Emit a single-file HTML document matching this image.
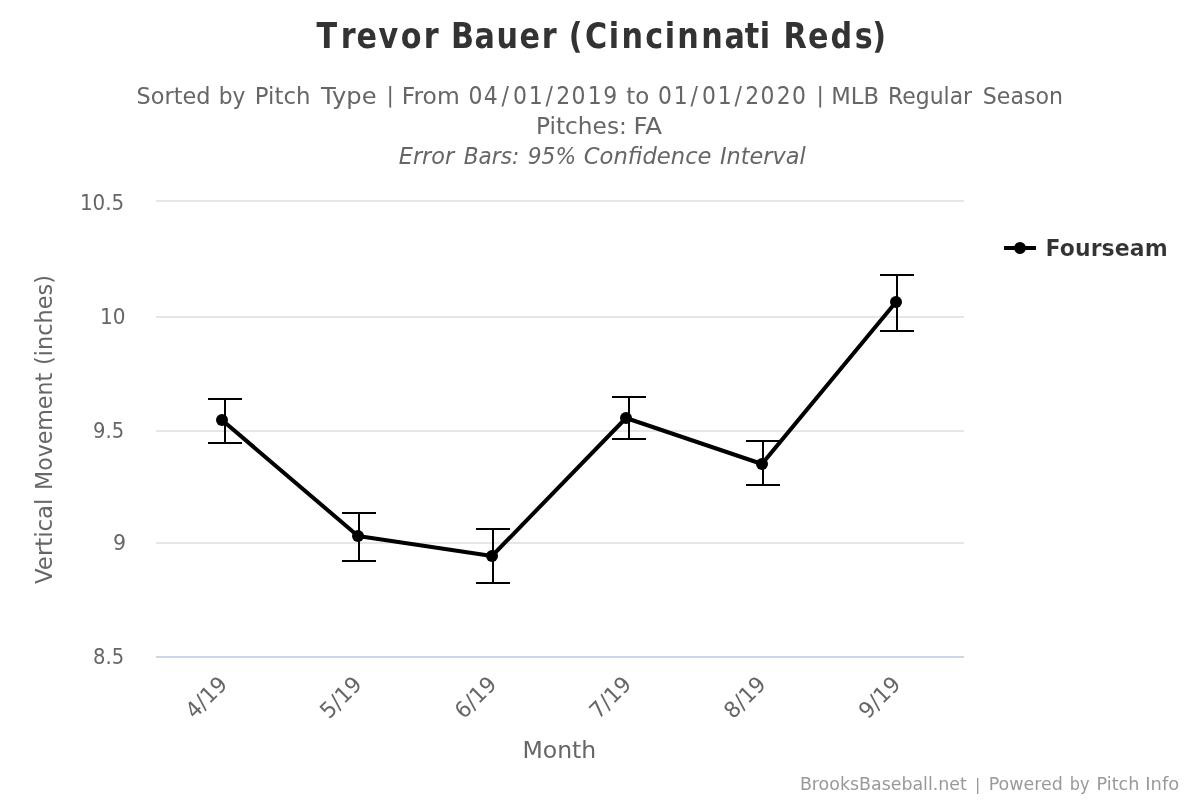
<!DOCTYPE html>
<html lang="en">
<head>
<meta charset="utf-8">
<title>Trevor Bauer (Cincinnati Reds)</title>
<style>
html,body{margin:0;padding:0;background:#fff;}
body{width:1200px;height:800px;overflow:hidden;}
svg{display:block;font-family:"DejaVu Sans","Liberation Sans",sans-serif;}
</style>
</head>
<body>
<svg width="1200" height="800" viewBox="0 0 1200 800">
<rect x="0" y="0" width="1200" height="800" fill="#ffffff"/>
<g stroke="#e6e6e6" stroke-width="2" fill="none">
<path d="M156 201H964"/>
<path d="M156 317H964"/>
<path d="M156 431H964"/>
<path d="M156 543H964"/>
</g>
<path d="M156 657H964" stroke="#ccd6eb" stroke-width="2" fill="none"/>
<g stroke="#000000" stroke-width="2" fill="none">
<path d="M225 399V443M208 399H242M208 443H242"/>
<path d="M359 513V561M342 513H376M342 561H376"/>
<path d="M493 529V583M476 529H510M476 583H510"/>
<path d="M629 397V439M612 397H646M612 439H646"/>
<path d="M763 441V485M746 441H780M746 485H780"/>
<path d="M897 275V331M880 275H914M880 331H914"/>
</g>
<path d="M222 420L358 536L492 556L626 418L762 464L896 302" stroke="#000000" stroke-width="4" fill="none" stroke-linejoin="round" stroke-linecap="round"/>
<g fill="#000000">
<circle cx="222" cy="420" r="6"/>
<circle cx="358" cy="536" r="6"/>
<circle cx="492" cy="556" r="6"/>
<circle cx="626" cy="418" r="6"/>
<circle cx="762" cy="464" r="6"/>
<circle cx="896" cy="302" r="6"/>
</g>
<path d="M1004 248H1036" stroke="#000000" stroke-width="4" fill="none"/>
<circle cx="1020" cy="248" r="6" fill="#000000"/>
<g font-size="23.3" fill="#666666">
<text x="136.54" y="103.80" textLength="73.93" lengthAdjust="spacingAndGlyphs">Sorted</text>
<text x="218.63" y="103.80" textLength="26.67" lengthAdjust="spacingAndGlyphs">by</text>
<text x="254.79" y="103.80" textLength="55.70" lengthAdjust="spacingAndGlyphs">Pitch</text>
<text x="321.04" y="103.80" textLength="55.56" lengthAdjust="spacingAndGlyphs">Type</text>
<text x="386.50" y="102.35" font-size="22">|</text>
<text x="401.74" y="103.80" textLength="57.96" lengthAdjust="spacingAndGlyphs">From</text>
<text x="626.25" y="103.80" textLength="22.98" lengthAdjust="spacingAndGlyphs">to</text>
<text x="816.50" y="102.35" font-size="22">|</text>
<text x="831.31" y="103.80" textLength="47.65" lengthAdjust="spacingAndGlyphs">MLB</text>
<text x="888.12" y="103.80" textLength="83.98" lengthAdjust="spacingAndGlyphs">Regular</text>
<text x="982.80" y="103.80" textLength="80.12" lengthAdjust="spacingAndGlyphs">Season</text>
</g>
<g font-size="23.3" fill="#666666">
<text x="536.00" y="133.80" textLength="90.84" lengthAdjust="spacingAndGlyphs">Pitches:</text>
<text x="633.40" y="133.80" textLength="28.53" lengthAdjust="spacingAndGlyphs">FA</text>
</g>
<g font-size="23.3" fill="#666666" font-style="italic">
<text x="398.75" y="163.80" textLength="55.39" lengthAdjust="spacingAndGlyphs">Error</text>
<text x="463.75" y="163.80" textLength="55.46" lengthAdjust="spacingAndGlyphs">Bars:</text>
<text x="527.82" y="163.80" textLength="48.24" lengthAdjust="spacingAndGlyphs">95%</text>
<text x="583.75" y="163.80" textLength="127.82" lengthAdjust="spacingAndGlyphs">Confidence</text>
<text x="720.00" y="163.80" textLength="85.74" lengthAdjust="spacingAndGlyphs">Interval</text>
</g>
<g font-size="22" fill="#666666">
<text x="79.89" y="209.80" textLength="44.31" lengthAdjust="spacingAndGlyphs">10.5</text>
</g>
<g font-size="22" fill="#666666">
<text x="99.88" y="324.00" textLength="25.53" lengthAdjust="spacingAndGlyphs">10</text>
</g>
<g font-size="22" fill="#666666">
<text x="93.11" y="438.00" textLength="31.07" lengthAdjust="spacingAndGlyphs">9.5</text>
</g>
<g font-size="22" fill="#666666">
<text x="113.07" y="550.00" textLength="13.06" lengthAdjust="spacingAndGlyphs">9</text>
</g>
<g font-size="22" fill="#666666">
<text x="93.11" y="664.00" textLength="31.07" lengthAdjust="spacingAndGlyphs">8.5</text>
</g>
<g font-size="23.3" fill="#666666">
<text x="522.48" y="758.00" textLength="73.81" lengthAdjust="spacingAndGlyphs">Month</text>
</g>
<g font-size="23.4" fill="#333333" font-weight="bold" stroke="#ffffff" stroke-width="0.2" stroke-linejoin="round">
<text x="1045.51" y="255.90" textLength="122.19" lengthAdjust="spacingAndGlyphs">Fourseam</text>
</g>
<g font-size="18" fill="#999999">
<text x="799.93" y="789.50" textLength="166.92" lengthAdjust="spacingAndGlyphs">BrooksBaseball.net</text>
<text x="975.10" y="790.10" font-size="15.8">|</text>
<text x="988.63" y="789.50" textLength="74.15" lengthAdjust="spacingAndGlyphs">Powered</text>
<text x="1069.80" y="789.50" textLength="19.78" lengthAdjust="spacingAndGlyphs">by</text>
<text x="1096.62" y="789.50" textLength="42.75" lengthAdjust="spacingAndGlyphs">Pitch</text>
<text x="1145.30" y="789.50" textLength="33.91" lengthAdjust="spacingAndGlyphs">Info</text>
</g>
<text transform="scale(0.9042,1)" font-size="24.3" fill="#666666" x="518.21 535.01 554.55 567.31 584.78 603.21 615.14 632.01 650.03 667.12" y="103.8">04/01/2019</text>
<text transform="scale(0.9006,1)" font-size="24.3" fill="#666666" x="730.59 748.13 766.62 779.44 796.98 815.47 827.46 844.39 862.44 879.37" y="103.8">01/01/2020</text>
<text transform="scale(0.8491,1)" font-size="35.6" fill="#333333" font-weight="bold" x="372.61 401.32 419.75 445.75 472.04 499.18 516.73 531.28 558.81 584.60 611.89 638.04 655.58 669.86 688.83 716.94 731.82 759.93 782.77 797.59 825.86 853.18 877.14 894.72 906.91 922.87 951.72 978.05 1006.63 1027.21" y="48.0">Trevor Bauer (Cincinnati Reds)</text>
<g font-size="23.3" fill="#666666">
<text transform="translate(52,584.00) rotate(-90)" textLength="85.44" lengthAdjust="spacingAndGlyphs">Vertical</text>
<text transform="translate(52,489.90) rotate(-90)" textLength="117.02" lengthAdjust="spacingAndGlyphs">Movement</text>
<text transform="translate(52,364.93) rotate(-90)" textLength="89.97" lengthAdjust="spacingAndGlyphs">(inches)</text>
</g>
<g font-size="22" fill="#666666" text-anchor="end">
<text transform="translate(228.60,685.5) rotate(-45)" textLength="48.3" lengthAdjust="spacingAndGlyphs">4/19</text>
<text transform="translate(363.27,685.5) rotate(-45)" textLength="48.3" lengthAdjust="spacingAndGlyphs">5/19</text>
<text transform="translate(497.93,685.5) rotate(-45)" textLength="48.3" lengthAdjust="spacingAndGlyphs">6/19</text>
<text transform="translate(632.60,685.5) rotate(-45)" textLength="48.3" lengthAdjust="spacingAndGlyphs">7/19</text>
<text transform="translate(767.27,685.5) rotate(-45)" textLength="48.3" lengthAdjust="spacingAndGlyphs">8/19</text>
<text transform="translate(901.94,685.5) rotate(-45)" textLength="48.3" lengthAdjust="spacingAndGlyphs">9/19</text>
</g>
</svg>
</body>
</html>
